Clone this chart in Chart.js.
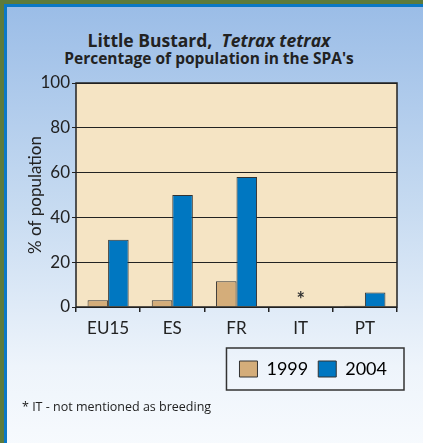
<!DOCTYPE html>
<html>
<head>
<meta charset="utf-8">
<script src="https://cdn.jsdelivr.net/npm/chart.js@4.4.0/dist/chart.umd.min.js"></script>
<style>
    body { margin: 0; width: 423px; height: 443px; overflow: hidden; background: #5d7b3c; font-family: Lato, "Open Sans", sans-serif; }
    #panel {
        position: absolute; left: 4px; top: 4px; width: 430px; height: 450px;
        border-left: 3px solid #0b78c6; border-top: 3px solid #0b78c6;
        background: linear-gradient(#9bbde7, #c7dbf1 45%, #eef4fb 80%, #f8fbfe);
    }
    #title { position: absolute; left: 0; width: 418px; top: 30px; text-align: center; color: #222; font-weight: bold; font-family: "Open Sans", sans-serif; }
    #title .l1 { font-size: 17.5px; line-height: 20px; }
    #title .l2 { font-size: 15.5px; line-height: 17px; }
    #note { position: absolute; left: 22px; top: 398px; font-size: 12.5px; color: #222; font-family: "Open Sans", sans-serif; }
    #wrap { position: absolute; left: 0; top: 0; width: 423px; height: 443px; }
</style>
</head>
<body>
<div id="panel"></div>
<div id="title">
    <div class="l1">Little Bustard,&nbsp; <i>Tetrax tetrax</i></div>
    <div class="l2">Percentage of population in the SPA's</div>
</div>
<div id="wrap"><canvas id="chart" width="423" height="443"></canvas></div>
<div id="note">* IT - not mentioned as breeding</div>

<script>
// Data
var countries = ['EU15', 'ES', 'FR', 'IT', 'PT'];
var years = ['1999', '2004'];
var pop1999 = [3, 3, 11.5, 0, 0.6];
var pop2004 = [30, 50, 58, 0, 6.5];
var yTicks = [0, 20, 40, 60, 80, 100];
var notBreeding = ['IT'];

// Plot background, frame, legend box and the asterisk
var plotFrame =
{
    id: 'plotFrame',
    beforeDraw: function (chart)
    {
        var a = chart.chartArea;
        var ctx = chart.ctx;
        ctx.save();
        ctx.fillStyle = '#f5e4c4';
        ctx.fillRect(a.left, a.top, a.right - a.left, a.bottom - a.top);
        ctx.restore();
    },
    afterDraw: function (chart)
    {
        var a = chart.chartArea;
        var ctx = chart.ctx;
        ctx.save();
        ctx.strokeStyle = '#222';
        ctx.lineWidth = 1.5;
        ctx.strokeRect(a.left, a.top, a.right - a.left, a.bottom - a.top);

        // legend box
        var hb = chart.legend.legendHitBoxes;
        if (hb && hb.length)
        {
            var first = hb[0], last = hb[hb.length - 1];
            ctx.strokeStyle = '#333';
            ctx.lineWidth = 1.5;
            ctx.strokeRect(first.left - 13, first.top - 12, last.left + last.width - first.left + 30, first.height + 24);
        }
        ctx.restore();
    },
    afterDatasetsDraw: function (chart)
    {
        var ctx = chart.ctx;
        var xs = chart.scales.x, ys = chart.scales.y;
        ctx.save();
        ctx.fillStyle = '#333';
        ctx.font = 'bold 20px Lato';
        ctx.textAlign = 'center';
        ctx.textBaseline = 'middle';
        notBreeding.forEach(function (c)
        {
            ctx.fillText('*', xs.getPixelForValue(countries.indexOf(c)), ys.getPixelForValue(0) - 6);
        });
        ctx.restore();
    }
};

var ctx = document.getElementById('chart').getContext('2d');
var myChart = new Chart(ctx,
{
    type: 'bar',
    data:
    {
        labels: countries,
        datasets: [
        {
            label: years[0],
            data: pop1999,
            backgroundColor: '#d4ad7a',
            borderColor: '#333',
            borderWidth: 1,
            barPercentage: 1.0,
            categoryPercentage: 0.64
        },
        {
            label: years[1],
            data: pop2004,
            backgroundColor: '#0077c1',
            borderColor: '#333',
            borderWidth: 1,
            barPercentage: 1.0,
            categoryPercentage: 0.64
        }]
    },
    options:
    {
        responsive: false,
        animation: false,
        layout: { padding: { top: 83, left: 25, right: 26, bottom: 55 } },
        plugins:
        {
            title: { display: false },
            tooltip: { enabled: false },
            legend:
            {
                position: 'bottom',
                align: 'end',
                labels:
                {
                    boxWidth: 18,
                    boxHeight: 16,
                    padding: 10,
                    color: '#222',
                    font: { family: 'Lato', size: 18 },
                    generateLabels: function (chart)
                    {
                        return chart.data.datasets.map(function (d, i)
                        {
                            return { text: d.label, fillStyle: d.backgroundColor, strokeStyle: '#333', lineWidth: 1, datasetIndex: i };
                        });
                    }
                }
            }
        },
        scales:
        {
            x:
            {
                border: { display: false },
                grid: { offset: true, drawOnChartArea: false, drawTicks: true, tickLength: 5, color: '#222', lineWidth: 1.5 },
                ticks: { color: '#222', font: { family: 'Lato', size: 17 }, padding: 6 },
                afterFit: function (s) { s.height = 43; }
            },
            y:
            {
                min: 0,
                max: 100,
                afterBuildTicks: function (s) { s.ticks = yTicks.map(function (v) { return { value: v }; }); },
                border: { display: false },
                grid: { color: '#222', lineWidth: 1, tickLength: 4 },
                ticks: { color: '#222', font: { family: 'Lato', size: 17 }, padding: 2 },
                title: { display: true, text: '% of population', color: '#222', font: { family: 'Lato', size: 17 }, padding: 0 },
                afterFit: function (s) { s.width = 51; }
            }
        }
    },
    plugins: [plotFrame]
});
</script>
</body>
</html>
